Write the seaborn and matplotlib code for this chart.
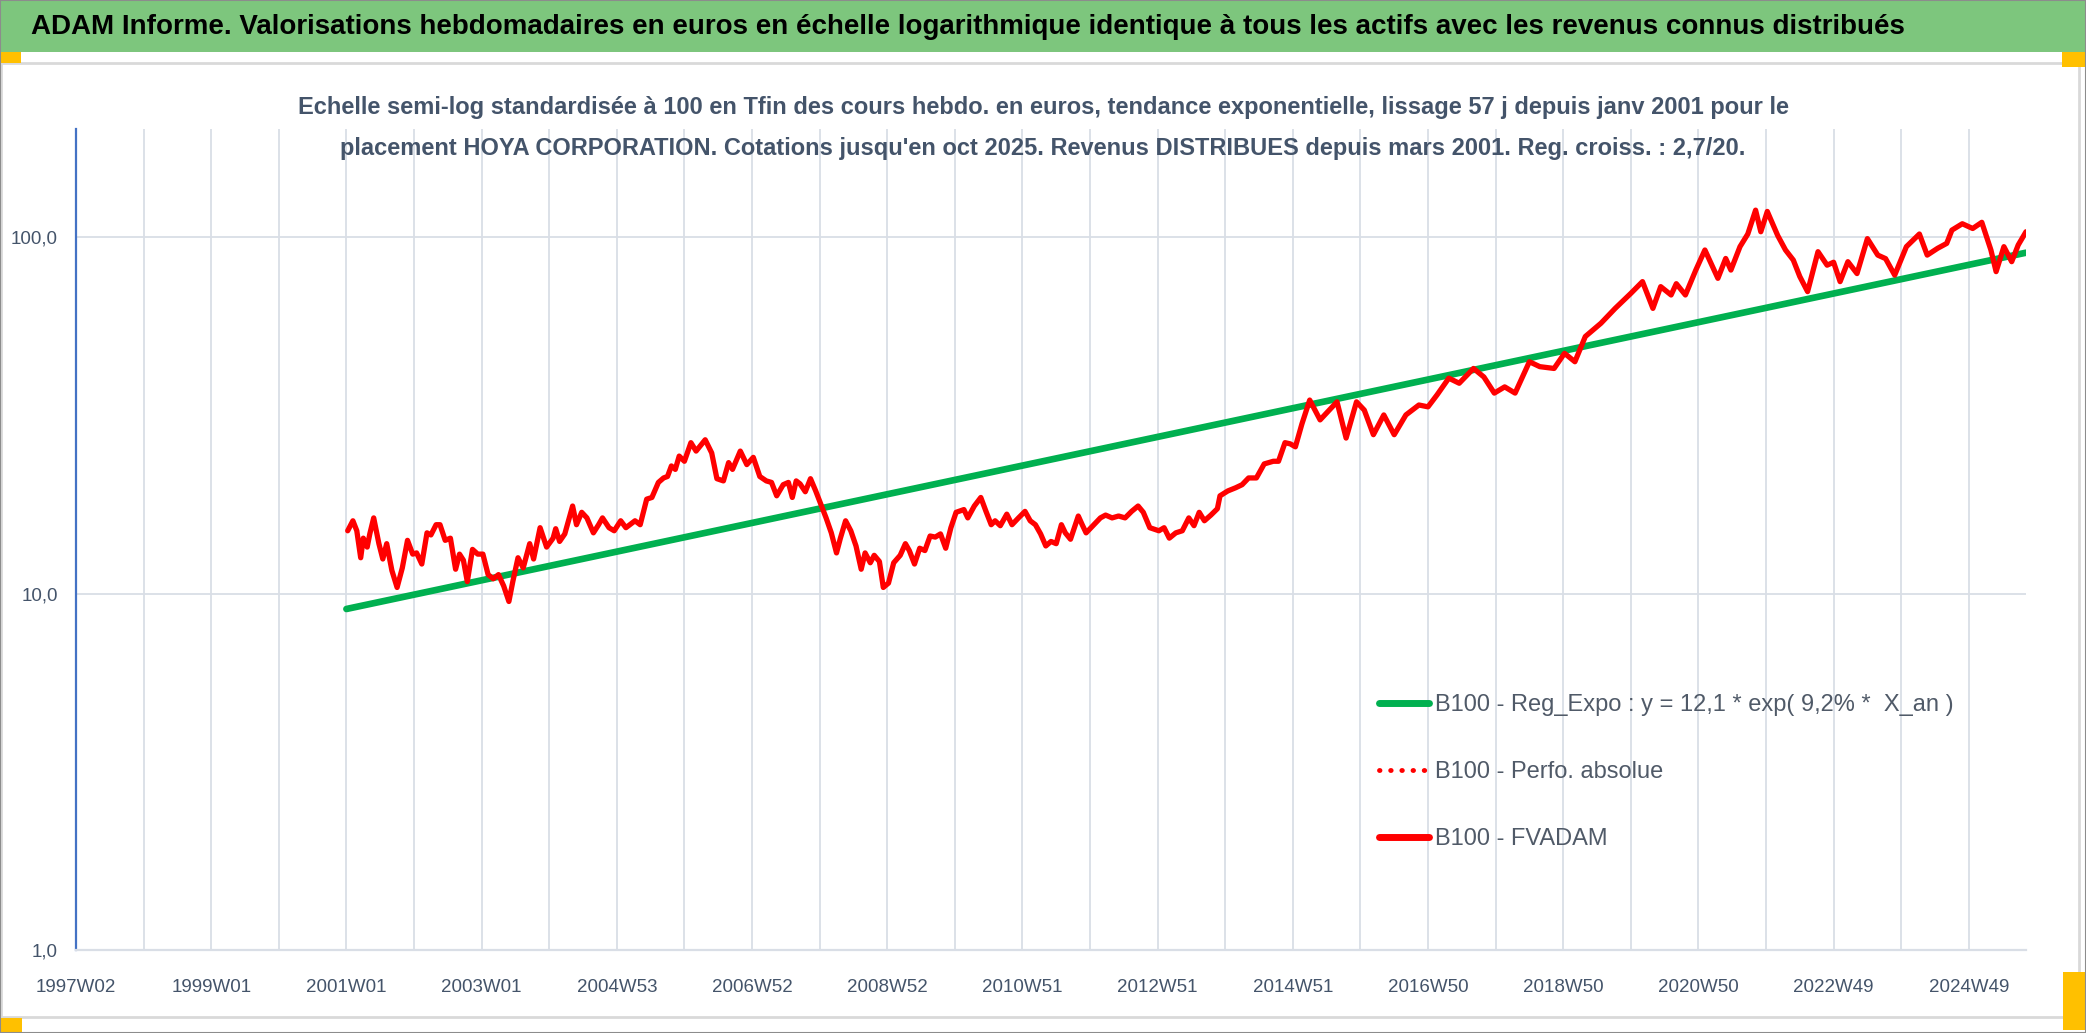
import matplotlib
matplotlib.use("Agg")
import matplotlib.pyplot as plt
from matplotlib.patches import Rectangle
from matplotlib.lines import Line2D
from matplotlib.ticker import FixedLocator, FuncFormatter, NullLocator
import seaborn as sns
import pandas as pd

# week index 0 = 1997W02, one tick every 52 weeks, one label every 104
tick_labels = ["1997W02", "1999W01", "2001W01", "2003W01", "2004W53", "2006W52",
               "2008W52", "2010W51", "2012W51", "2014W51", "2016W50", "2018W50",
               "2020W50", "2022W49", "2024W49"]
n_weeks = 1501

# B100 - FVADAM (week index / value)
fvadam_week = [
    209, 213, 216, 219, 221, 224, 226, 229, 233, 236, 239, 243, 247, 251, 255, 259,
    262, 266, 270, 273, 277, 280, 284, 288, 292, 295, 298, 301, 305, 309, 313, 317,
    321, 325, 329, 333, 336, 340, 344, 349, 352, 357, 362, 367, 369, 372, 376, 382,
    385, 389, 393, 398, 402, 405, 410, 414, 419, 423, 430, 434, 439, 443, 448, 452,
    455, 458, 461, 464, 468, 473, 477, 484, 489, 493, 498, 502, 505, 511, 516, 521,
    526, 531, 535, 539, 544, 548, 551, 554,
    557, 561, 565, 569, 573, 577, 581, 585, 588, 592, 596, 600, 604, 607, 611, 614,
    618, 621, 625, 629, 634, 638, 641, 645, 649, 653, 657, 661, 665, 669, 673, 677,
    683, 686, 691, 696, 700, 704, 707, 711, 716, 720, 725, 730, 734, 738, 742, 746,
    750, 754, 758, 761, 765, 771, 774, 777, 783, 788, 792, 797, 802, 807, 812, 817,
    821, 826, 833, 837, 841, 846, 851, 856, 860, 864, 868, 873, 878, 880, 886, 892,
    897, 902, 908, 914, 921, 925, 930, 934, 938,
    943, 949, 957, 962, 970, 977, 985, 991, 998, 1006, 1014, 1023, 1033, 1040, 1047,
    1056, 1064, 1075, 1083, 1091, 1099, 1107, 1118, 1126, 1137, 1145, 1153, 1161,
    1173, 1184, 1196, 1205, 1213, 1219, 1227, 1231, 1238, 1246, 1253, 1263, 1269,
    1273, 1280, 1286, 1292, 1296, 1301, 1309, 1315, 1321, 1326, 1332, 1340, 1347,
    1352, 1357, 1363, 1370, 1378, 1386, 1392, 1399, 1408, 1418, 1424, 1432, 1439,
    1443, 1451, 1459, 1466, 1473, 1477, 1483, 1489, 1494, 1500,
]
fvadam_val = [
    15.0, 16.0, 15.0, 12.6, 14.3, 13.5, 14.7, 16.3, 13.8, 12.5, 13.8, 11.6, 10.4, 11.8, 14.1, 12.9,
    13.0, 12.1, 14.8, 14.6, 15.6, 15.6, 14.1, 14.3, 11.7, 12.9, 12.4, 10.8, 13.3, 12.9, 12.9, 11.3,
    11.0, 11.3, 10.5, 9.5, 10.8, 12.6, 11.8, 13.8, 12.5, 15.3, 13.5, 14.3, 15.2, 14.0, 14.7, 17.6,
    15.6, 16.9, 16.3, 14.8, 15.6, 16.3, 15.3, 15.0, 16.0, 15.3, 16.0, 15.6, 18.4, 18.6, 20.5, 21.1,
    21.3, 22.8, 22.3, 24.3, 23.5, 26.5, 25.1, 27.0, 24.8, 21.0, 20.7, 23.3, 22.3, 25.1, 23.0, 24.1,
    21.3, 20.7, 20.5, 18.8, 20.2, 20.5, 18.6, 20.7,
    20.3, 19.3, 21.0, 19.4, 17.8, 16.3, 14.8, 13.0, 14.3, 16.0, 15.0, 13.6, 11.7, 13.0, 12.2, 12.8,
    12.3, 10.4, 10.7, 12.2, 12.8, 13.8, 13.2, 12.1, 13.4, 13.2, 14.5, 14.4, 14.7, 13.4, 15.3, 16.9,
    17.2, 16.3, 17.6, 18.6, 17.0, 15.6, 16.0, 15.5, 16.7, 15.6, 16.3, 17.0, 16.0, 15.6, 14.7, 13.6,
    14.0, 13.8, 15.6, 14.8, 14.2, 16.5, 15.6, 14.8, 15.6, 16.3, 16.6, 16.3, 16.5, 16.3, 17.0, 17.6,
    16.9, 15.3, 15.0, 15.3, 14.3, 14.8, 15.0, 16.3, 15.5, 16.9, 16.0, 16.6, 17.3, 18.8, 19.4, 19.8,
    20.2, 21.1, 21.1, 23.1, 23.5, 23.5, 26.5, 26.3, 25.8,
    29.9, 34.9, 30.7, 32.1, 34.5, 27.3, 34.5, 32.7, 27.9, 31.7, 27.9, 31.7, 33.8, 33.4, 36.1,
    40.2, 38.9, 42.8, 40.5, 36.5, 38.0, 36.5, 44.7, 43.3, 42.8, 47.2, 44.7, 52.6,
    57.3, 63.1, 69.5, 75.0, 63.1, 72.6, 68.8, 74.0, 68.8, 80.8, 92.0, 76.6, 87.1,
    80.8, 94.0, 102.0, 119.0, 103.5, 118.0, 101.0, 92.0, 86.2, 77.5, 70.3, 91.0, 83.4,
    85.0, 75.0, 85.3, 79.0, 99.0, 89.0, 87.0, 78.2, 94.0, 102.0, 89.0, 93.0, 96.0,
    104.6, 109.0, 105.7, 110.0, 92.0, 80.0, 94.0, 85.3, 95.0, 103.5,
]

# B100 - Reg_Expo : straight line on the log scale, end points
trend_week = [208, 1500]
trend_val = [9.05, 90.4]

label_trend = "B100 - Reg_Expo : y = 12,1 * exp( 9,2% *  X_an )"
label_perfo = "B100 - Perfo. absolue"
label_fvadam = "B100 - FVADAM"

title = ("ADAM Informe. Valorisations hebdomadaires en euros en échelle logarithmique "
         "identique à tous les actifs avec les revenus connus distribués")
subtitle = ("Echelle semi-log standardisée à 100 en Tfin des cours hebdo. en euros, tendance "
            "exponentielle, lissage 57 j depuis janv 2001 pour le\nplacement HOYA CORPORATION. "
            "Cotations jusqu'en oct 2025. Revenus DISTRIBUES depuis mars 2001. Reg. croiss. : 2,7/20.")

W, H = 2086, 1033
GRID = "#D9DEE6"
TXT = "#44546A"
RED = "#FF0000"
GREEN = "#00B050"

sns.set_theme(style="white")
plt.rcParams["font.family"] = ["Liberation Sans", "DejaVu Sans"]

fig = plt.figure(figsize=(W / 100, H / 100), dpi=100)
fig.patch.set_facecolor("white")


def px_rect(x0, y0, x1, y1, **kw):
    # rectangle given in pixels from the top-left corner
    return Rectangle((x0 / W, 1 - y1 / H), (x1 - x0) / W, (y1 - y0) / H,
                     transform=fig.transFigure, **kw)


fig.add_artist(px_rect(0, 0, W, 52, facecolor="#7DC67D", edgecolor="none"))
fig.add_artist(px_rect(1, 63, 2079, 1017, facecolor="none", edgecolor="#D9D9D9", lw=2))
for x0, y0, x1, y1 in [(0, 52, 21, 63), (2062, 52, 2086, 67),
                       (0, 1018, 22, 1032), (2063, 972, 2086, 1030)]:
    fig.add_artist(px_rect(x0, y0, x1, y1, facecolor="#FFC000", edgecolor="none"))
fig.add_artist(px_rect(0, 0, W, H, facecolor="none", edgecolor="#8C8C8C", lw=1.5))

fig.text(31 / W, 1 - 27 / H, title, ha="left", va="center", fontsize=20,
         fontweight="bold", color="black")

ax = fig.add_axes([76 / W, 1 - 950 / H, (2026 - 76) / W, (950 - 129) / H])
ax.set_facecolor("none")

df_fv = pd.DataFrame({"week": fvadam_week, "value": fvadam_val})
df_tr = pd.DataFrame({"week": trend_week, "value": trend_val})

sns.lineplot(data=df_tr, x="week", y="value", ax=ax, color=GREEN, linewidth=4.8,
             solid_capstyle="round", estimator=None, sort=False)
sns.lineplot(data=df_fv, x="week", y="value", ax=ax, color=RED, linewidth=2.5,
             linestyle=":", estimator=None, sort=False)
sns.lineplot(data=df_fv, x="week", y="value", ax=ax, color=RED, linewidth=3.8,
             solid_joinstyle="round", estimator=None, sort=False)

ax.set_yscale("log")
ax.set_ylim(1, 201)
ax.set_xlim(0, n_weeks - 1)
ax.yaxis.set_major_locator(FixedLocator([1, 10, 100]))
ax.yaxis.set_minor_locator(NullLocator())
ax.yaxis.set_major_formatter(FuncFormatter(lambda v, p: f"{v:.1f}".replace(".", ",")))

xt = list(range(0, n_weeks, 52))
ax.set_xticks(xt)
ax.set_xticklabels([tick_labels[i // 2] if i % 2 == 0 else "" for i in range(len(xt))])
ax.set_xlabel("")
ax.set_ylabel("")

ax.grid(True, axis="both", color=GRID, linewidth=1.3)
ax.set_axisbelow(True)
for s in ["top", "right"]:
    ax.spines[s].set_visible(False)
ax.spines["left"].set_color("#4472C4")
ax.spines["left"].set_linewidth(1.6)
ax.spines["bottom"].set_color(GRID)
ax.spines["bottom"].set_linewidth(1.6)

ax.tick_params(axis="x", length=5, width=1.3, color=GRID, direction="out",
               pad=16, labelsize=13.5, labelcolor=TXT)
ax.tick_params(axis="y", length=0, pad=13, labelsize=13.5, labelcolor=TXT)

fig.text(0.5, 1 - 128 / H, subtitle, ha="center", va="center", fontsize=17,
         fontweight="bold", color=TXT, linespacing=2.0)

handles = [
    Line2D([], [], color=GREEN, lw=5, solid_capstyle="round"),
    Line2D([], [], color=RED, lw=3.5, linestyle=(0, (0.1, 2.2)), dash_capstyle="round"),
    Line2D([], [], color=RED, lw=5, solid_capstyle="round"),
]
fig.legend(handles, [label_trend, label_perfo, label_fvadam], loc="upper left",
           bbox_to_anchor=(1358 / W, 1 - 673 / H), frameon=False, fontsize=17,
           handlelength=2.1, handletextpad=0.25, labelspacing=1.9, labelcolor="#505A68")

fig.savefig("out.png", dpi=100, facecolor="white")
